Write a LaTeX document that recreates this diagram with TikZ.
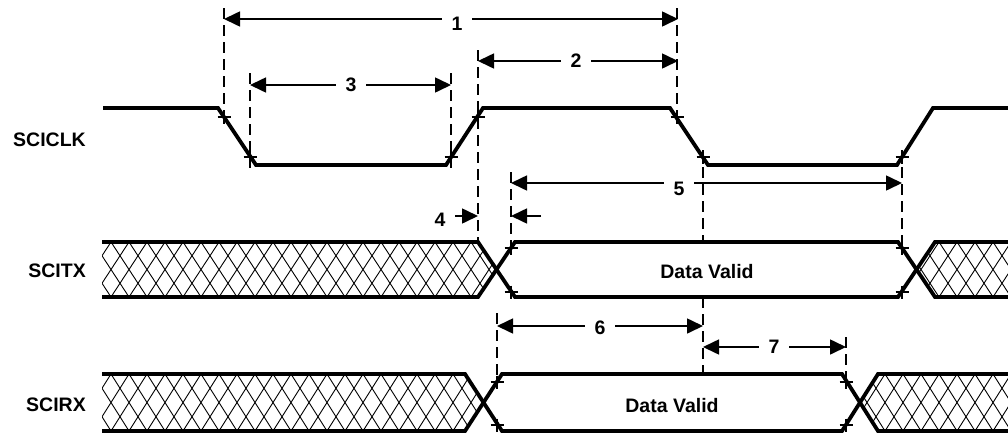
\documentclass[tikz,border=0pt]{standalone}
\usepackage{fontspec}
\setmainfont{Liberation Sans}
\usetikzlibrary{arrows.meta}
\begin{document}
\begin{tikzpicture}[x=1pt,y=-1pt,
  sig/.style={line width=3.8pt, line join=miter},
  guide/.style={line width=1.5pt, dash pattern=on 11pt off 6pt},
  tickx/.style={line width=1.3pt},
  hatchline/.style={line width=0.9pt},
  dimline/.style={line width=1.6pt},
  tipr/.style={dimline, -{Triangle[length=16pt,width=15pt]}},
  dimboth/.style={dimline, {Triangle[length=16pt,width=15pt]}-{Triangle[length=16pt,width=15pt]}},
  lbl/.style={font=\fontsize{19.5}{22}\selectfont\bfseries, inner sep=0pt},
  numlbl/.style={lbl, fill=white, inner xsep=10pt, inner ysep=2pt}
]
\useasboundingbox (0,0) rectangle (1008,434);
\newcommand\tkx[1]{\draw[tickx] (#1) +(-6.5,0) -- +(6.5,0) (#1) +(0,-6.5) -- +(0,6.5);}

% signal names
\node[lbl, anchor=east] (nclk) at (86,140) {SCICLK};
\node[lbl, anchor=east] (ntx) at (86,271) {SCITX};
\node[lbl, anchor=east] (nrx) at (86,405) {SCIRX};

% hatching
\begin{scope}
\clip (102,242) -- (478,242) -- (496.5,269.5) -- (478,297) -- (102,297) -- cycle
      (916.5,269.5) -- (935,242) -- (1010,242) -- (1010,297) -- (935,297) -- cycle;
\foreach \k in {-3,...,52} {
  \draw[hatchline] (111+18*\k,242) -- ++(36,55);
  \draw[hatchline] (111+18*\k,242) -- ++(-36,55);
}
\end{scope}
\begin{scope}
\clip (102,374) -- (465,374) -- (483.5,402.5) -- (465,431) -- (102,431) -- cycle
      (860,402.5) -- (878,374) -- (1010,374) -- (1010,431) -- (878,431) -- cycle;
\foreach \k in {-3,...,52} {
  \draw[hatchline] (111+18*\k,374) -- ++(36,57);
  \draw[hatchline] (111+18*\k,374) -- ++(-36,57);
}
\end{scope}

% guide coordinates
\coordinate (g1a) at (224,8);   \coordinate (g1b) at (224,124);
\coordinate (g2a) at (250,73);  \coordinate (g2b) at (250,168);
\coordinate (g3a) at (451,73);  \coordinate (g3b) at (451,168);
\coordinate (g4a) at (478,50);  \coordinate (g4b) at (478,242);
\coordinate (g5a) at (677,8);   \coordinate (g5b) at (677,124);
\coordinate (g6a) at (703,150); \coordinate (g6b) at (703,242);
\coordinate (g7a) at (511,172); \coordinate (g7b) at (511,255);
\coordinate (g8a) at (902,150); \coordinate (g8b) at (902,255);
\coordinate (g9a) at (497,313); \coordinate (g9b) at (497,388);
\coordinate (g10a) at (846,337); \coordinate (g10b) at (846,388);
\coordinate (g11a) at (703,297); \coordinate (g11b) at (703,374);
\foreach \g in {1,...,11} {\draw[guide] (g\g a) -- (g\g b);}

% signals
\draw[sig] (103,108) -- (218,108) -- (256,165) -- (446,165) -- (483,108) -- (670,108)
  -- (708,165) -- (897,165) -- (933,108) -- (1010,108);
\draw[sig] (102,242) -- (478,242) -- (515,297) -- (898,297) -- (935,242) -- (1010,242);
\draw[sig] (102,297) -- (478,297) -- (515,242) -- (898,242) -- (935,297) -- (1010,297);
\draw[sig] (102,374) -- (465,374) -- (502,431) -- (842,431) -- (878,374) -- (1010,374);
\draw[sig] (102,431) -- (465,431) -- (502,374) -- (842,374) -- (878,431) -- (1010,431);

% tick marks
\tkx{224,117} \tkx{250,157} \tkx{451,157} \tkx{478,117}
\tkx{677,117} \tkx{703,157} \tkx{902,157}
\tkx{511,248} \tkx{511,292} \tkx{902,248} \tkx{902,292}
\tkx{497,382} \tkx{497,425} \tkx{846,382} \tkx{846,425}

\node[lbl] (dv1) at (707,272) {Data Valid};
\node[lbl] (dv2) at (672,406) {Data Valid};

% dimension arrows
\coordinate (d1a) at (224,19);  \coordinate (d1b) at (678,19);
\coordinate (d2a) at (478,61);  \coordinate (d2b) at (678,61);
\coordinate (d3a) at (250,85);  \coordinate (d3b) at (451,85);
\coordinate (d5a) at (511,183); \coordinate (d5b) at (902,183);
\coordinate (d6a) at (497,326); \coordinate (d6b) at (703,326);
\coordinate (d7a) at (703,347); \coordinate (d7b) at (846,347);
\coordinate (d4a) at (455,216); \coordinate (d4b) at (478,216);
\coordinate (d4c) at (541,216); \coordinate (d4d) at (511,216);

\draw[dimboth] (d1a) -- (d1b);
\draw[dimboth] (d2a) -- (d2b);
\draw[dimboth] (d3a) -- (d3b);
\draw[dimboth] (d5a) -- (d5b);
\draw[dimboth] (d6a) -- (d6b);
\draw[dimboth] (d7a) -- (d7b);
\draw[tipr] (d4a) -- (d4b);
\draw[tipr] (d4c) -- (d4d);

\node[numlbl] (l1) at (457,24) {1};
\node[numlbl] (l2) at (576,61) {2};
\node[numlbl] (l3) at (351,85) {3};
\node[numlbl] (l5) at (679,189) {5};
\node[numlbl] (l6) at (600,328) {6};
\node[numlbl] (l7) at (774,347) {7};
\node[lbl] (l4) at (440,220) {4};
\end{tikzpicture}
\end{document}
